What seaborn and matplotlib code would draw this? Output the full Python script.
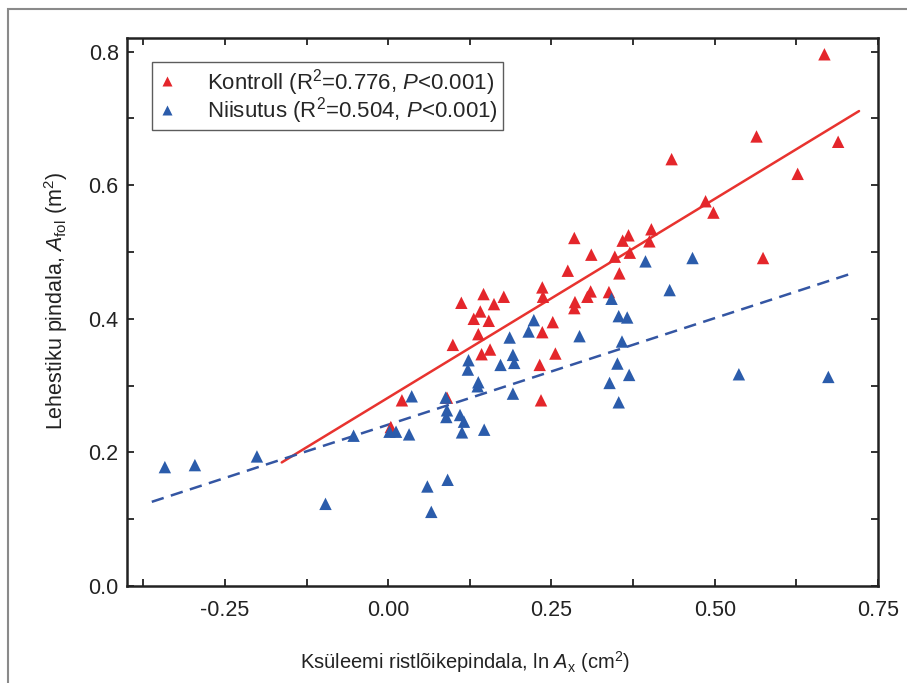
import numpy as np
import pandas as pd
import matplotlib
matplotlib.use("Agg")
import matplotlib.pyplot as plt
from matplotlib.patches import Rectangle
from matplotlib.ticker import MultipleLocator, FormatStrFormatter
import seaborn as sns

# Kontroll (red) points: ln Ax (cm2) vs Afol (m2)
kontroll_x = [0.668, 0.564, 0.689, 0.434, 0.627, 0.486, 0.498, 0.285, 0.368, 0.359,
              0.403, 0.400, 0.311, 0.347, 0.370, 0.574, 0.275, 0.354, 0.236, 0.237,
              0.310, 0.305, 0.338, 0.286, 0.285, 0.177, 0.146, 0.112, 0.162, 0.141,
              0.131, 0.154, 0.138, 0.099, 0.143, 0.156, 0.252, 0.236, 0.256, 0.232,
              0.234, 0.021, 0.090, 0.004]
kontroll_y = [0.796, 0.673, 0.665, 0.639, 0.617, 0.576, 0.559, 0.521, 0.525, 0.517,
              0.534, 0.516, 0.496, 0.493, 0.499, 0.491, 0.472, 0.468, 0.447, 0.433,
              0.441, 0.433, 0.440, 0.425, 0.416, 0.433, 0.437, 0.424, 0.422, 0.411,
              0.400, 0.397, 0.377, 0.361, 0.347, 0.354, 0.395, 0.380, 0.348, 0.331,
              0.278, 0.278, 0.282, 0.238]

# Niisutus (blue) points
niisutus_x = [0.674, 0.537, 0.466, 0.394, 0.431, 0.342, 0.353, 0.366, 0.358, 0.351,
              0.369, 0.339, 0.353, 0.293, 0.223, 0.215, 0.186, 0.191, 0.193, 0.172,
              0.123, 0.122, 0.138, 0.137, 0.191, 0.036, 0.088, 0.090, 0.089, 0.110,
              0.116, 0.113, 0.147, 0.032, 0.002, 0.012, -0.053, -0.201, -0.296, -0.342,
              -0.096, 0.060, 0.091, 0.066]
niisutus_y = [0.313, 0.317, 0.491, 0.486, 0.443, 0.430, 0.404, 0.402, 0.366, 0.333,
              0.316, 0.304, 0.275, 0.374, 0.398, 0.381, 0.372, 0.346, 0.334, 0.331,
              0.338, 0.324, 0.305, 0.299, 0.288, 0.284, 0.282, 0.263, 0.253, 0.256,
              0.246, 0.230, 0.234, 0.227, 0.231, 0.231, 0.225, 0.194, 0.181, 0.178,
              0.123, 0.149, 0.159, 0.111]

# fitted lines: slope, intercept and x range as drawn in the figure
kontroll_fit = (0.595, 0.282)
kontroll_fit_x = [-0.163, 0.721]
niisutus_fit = (0.319, 0.2415)
niisutus_fit_x = [-0.362, 0.711]

labels = {
    "Kontroll": r"Kontroll (R$^{2}$=0.776, $P$<0.001)",
    "Niisutus": r"Niisutus (R$^{2}$=0.504, $P$<0.001)",
}

sns.set_theme(style="white")
plt.rcParams["font.family"] = ["Liberation Sans", "DejaVu Sans"]
plt.rcParams["mathtext.fontset"] = "custom"
plt.rcParams["mathtext.rm"] = "Liberation Sans"
plt.rcParams["mathtext.it"] = "Liberation Sans:italic"

red = "#e4262b"
blue = "#2b5cab"
ink = "#222222"

df = pd.DataFrame({
    "x": kontroll_x + niisutus_x,
    "y": kontroll_y + niisutus_y,
    "group": [labels["Kontroll"]] * len(kontroll_x) + [labels["Niisutus"]] * len(niisutus_x),
})

fig = plt.figure(figsize=(9.07, 6.83), dpi=100)
ax = fig.add_axes([0.140, 0.142, 0.828, 0.802])

sns.scatterplot(data=df, x="x", y="y", hue="group", marker="^", s=80,
                palette=[red, blue], edgecolor="none", ax=ax, zorder=3)

fits = pd.DataFrame({
    "x": kontroll_fit_x + niisutus_fit_x,
    "y": [kontroll_fit[0] * v + kontroll_fit[1] for v in kontroll_fit_x]
         + [niisutus_fit[0] * v + niisutus_fit[1] for v in niisutus_fit_x],
    "fit": ["k", "k", "n", "n"],
})
sns.lineplot(data=fits[fits.fit == "k"], x="x", y="y", color="#e8332f", lw=1.8,
             ax=ax, legend=False, zorder=2)
sns.lineplot(data=fits[fits.fit == "n"], x="x", y="y", color="#3456a3", lw=1.8,
             ax=ax, legend=False, zorder=2, linestyle=(0, (5, 3)))

ax.set_xlim(-0.40, 0.75)
ax.set_ylim(0.0, 0.82)
ax.xaxis.set_major_locator(MultipleLocator(0.25))
ax.xaxis.set_minor_locator(MultipleLocator(0.125))
ax.yaxis.set_major_locator(MultipleLocator(0.2))
ax.yaxis.set_minor_locator(MultipleLocator(0.1))
ax.xaxis.set_major_formatter(FormatStrFormatter("%.2f"))
ax.yaxis.set_major_formatter(FormatStrFormatter("%.1f"))
ax.tick_params(which="both", direction="in", length=5, width=1.3, color=ink,
               top=True, right=True, bottom=True, left=True, labelsize=15.5,
               labelcolor=ink)
ax.tick_params(axis="x", which="major", pad=10)
ax.tick_params(axis="y", which="major", pad=6)
for sp in ax.spines.values():
    sp.set_linewidth(1.8)
    sp.set_color(ink)

ax.set_xlabel(r"Ksüleemi ristlõikepindala, ln $A_{\mathrm{x}}$ (cm$^{2}$)",
              fontsize=14.5, color=ink)
ax.set_ylabel(r"Lehestiku pindala, $A_{\mathrm{fol}}$ (m$^{2}$)",
              fontsize=15.5, color=ink)
ax.xaxis.set_label_coords(0.45, -0.115)
ax.yaxis.set_label_coords(-0.076, 0.52)

leg = ax.legend(loc="upper left", bbox_to_anchor=(0.033, 0.956), borderaxespad=0,
                fontsize=16, frameon=True, fancybox=False, edgecolor="#333333",
                handlelength=1.0, handletextpad=1.3, borderpad=0.2,
                labelspacing=-0.12, markerscale=0.8, title=None)
leg.get_frame().set_linewidth(1.0)

# thin grey frame around the whole figure
fig.patches.append(Rectangle((0.009, -0.05), 1.2, 1.037, transform=fig.transFigure,
                             fill=False, edgecolor="#8a8a8a", lw=1.5))

fig.savefig("out.png", dpi=100)
